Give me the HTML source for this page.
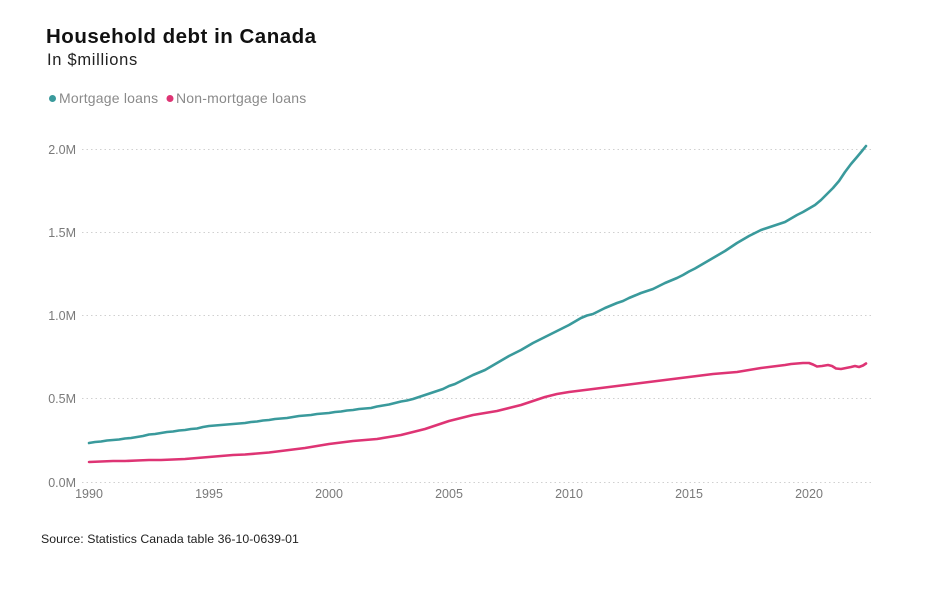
<!DOCTYPE html>
<html>
<head>
<meta charset="utf-8">
<style>
  html, body { margin: 0; padding: 0; background: #ffffff; }
  body { width: 948px; height: 591px; overflow: hidden; position: relative; font-family: "Liberation Sans", Arial, sans-serif; }
  svg { position: absolute; left: 0; top: 0; }
</style>
</head>
<body>
<svg width="948" height="591" viewBox="0 0 948 591" xmlns="http://www.w3.org/2000/svg" font-family="Liberation Sans, Arial, sans-serif">
  <!-- Title -->
  <text x="46" y="43" font-size="20.5" font-weight="bold" fill="#111" letter-spacing="0.5">Household debt in Canada</text>
  <text x="47" y="65" font-size="16.5" fill="#222" letter-spacing="0.7">In $millions</text>

  <!-- Legend -->
  <circle cx="52.5" cy="98.5" r="3.5" fill="#3a9a9c"/>
  <text x="59" y="103" font-size="14" fill="#8a8a8a" letter-spacing="0.2">Mortgage loans</text>
  <circle cx="170" cy="98.5" r="3.5" fill="#de3474"/>
  <text x="176" y="103" font-size="14" fill="#8a8a8a" letter-spacing="0.2">Non-mortgage loans</text>

  <!-- Gridlines -->
  <g stroke="#d0d0d0" stroke-width="1" stroke-dasharray="1.5,3">
    <line x1="82" y1="149.5" x2="873" y2="149.5"/>
    <line x1="82" y1="232.5" x2="873" y2="232.5"/>
    <line x1="82" y1="315.5" x2="873" y2="315.5"/>
    <line x1="82" y1="398.5" x2="873" y2="398.5"/>
    <line x1="82" y1="482.5" x2="873" y2="482.5"/>
  </g>

  <!-- Y labels -->
  <g font-size="12.5" fill="#7a7a7a" text-anchor="end">
    <text x="76" y="154">2.0M</text>
    <text x="76" y="237">1.5M</text>
    <text x="76" y="320">1.0M</text>
    <text x="76" y="403">0.5M</text>
    <text x="76" y="487">0.0M</text>
  </g>

  <!-- X labels -->
  <g font-size="12.5" fill="#7a7a7a" text-anchor="middle">
    <text x="89" y="498">1990</text>
    <text x="209" y="498">1995</text>
    <text x="329" y="498">2000</text>
    <text x="449" y="498">2005</text>
    <text x="569" y="498">2010</text>
    <text x="689" y="498">2015</text>
    <text x="809" y="498">2020</text>
  </g>

  <!-- Mortgage loans -->
  <polyline fill="none" stroke="#3a9a9c" stroke-width="2.6" stroke-linejoin="round" stroke-linecap="round"
    points="89,443 95,442 101,441.5 107,440.5 113,440 119,439.5 125,438.5 131,438 137,437 143,436 149,434.5 155,434 161,433 167,432 173,431.5 179,430.5 185,430 191,429 197,428.5 203,427 209,426 215,425.5 221,425 227,424.5 233,424 239,423.5 245,423 251,422 257,421.5 263,420.5 269,420 275,419 281,418.5 287,418 293,417 299,416 305,415.5 311,415 317,414 323,413.5 329,413 335,412 341,411.5 347,410.5 353,410 359,409 365,408.5 371,408 377,406.5 383,405.5 389,404.5 395,403 401,401.5 407,400.5 413,399 419,397 425,395 431,393 437,391 443,389 449,386 455,384 461,381 467,378 473,375 479,372.5 485,370 491,366.5 497,363 503,359.5 509,356 515,353 521,350 527,346.5 533,343 539,340 545,337 551,334 557,331 563,328 569,325 575,321.5 581,318 587,315.5 593,314 599,311 605,308 611,305.5 617,303 623,301 629,298 635,295.5 641,293 647,291 653,289 659,286 665,283 671,280.5 677,278 683,275 689,271.5 695,268.5 701,265 707,261.5 713,258 719,254.5 725,251 731,247 737,243 743,239.5 749,236 755,233 761,230 767,228 773,226 779,224 785,222 791,218.5 797,215 803,212 809,208.5 815,205 821,200 827,194 833,188 839,181 845,172 851,164 857,157 862,151 866,146"/>

  <!-- Non-mortgage loans -->
  <polyline fill="none" stroke="#de3474" stroke-width="2.6" stroke-linejoin="round" stroke-linecap="round"
    points="89,462 101,461.5 113,461 125,461 137,460.5 149,460 161,460 173,459.5 185,459 197,458 209,457 221,456 233,455 245,454.5 257,453.5 269,452.5 281,451 293,449.5 305,448 317,446 329,444 341,442.5 353,441 365,440 377,439 389,437 401,435 413,432 425,429 437,425 449,421 461,418 473,415 485,413 497,411 509,408 521,405 533,401 545,397 557,394 569,392 581,390.5 593,389 605,387.5 617,386 629,384.5 641,383 653,381.5 665,380 677,378.5 689,377 701,375.5 713,374 725,373 737,372 749,370 761,368 773,366.5 785,365 791,364 797,363.5 803,363 809,363 813,364.5 817,366.5 822,366 828,365 832,366 836,368.5 841,369 846,368 851,367 855,366 859,367 863,365.5 866,363.5"/>

  <!-- Source -->
  <text x="41" y="543" font-size="12.3" fill="#222" letter-spacing="0.05">Source:  Statistics Canada table 36-10-0639-01</text>
</svg>
</body>
</html>
